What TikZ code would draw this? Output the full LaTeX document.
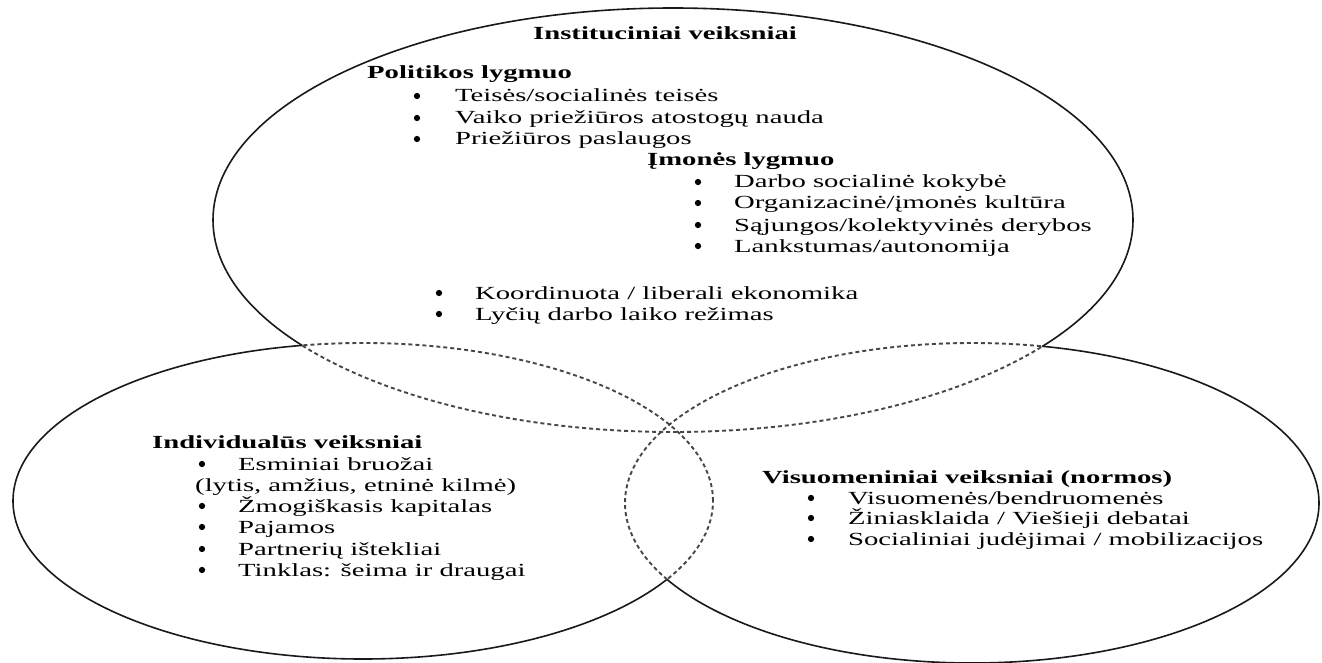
\documentclass[tikz,border=0pt]{standalone}
\usepackage{fontspec}
\setmainfont{Liberation Serif}[FakeStretch=1.55]
\begin{document}
\begin{tikzpicture}[x=1pt,y=-1pt,
  txt/.style={anchor=base west, inner sep=0pt, font=\fontsize{18.5}{21}\selectfont},
  hd/.style={anchor=base west, inner sep=0pt, font=\fontsize{18.5}{21}\selectfont\bfseries},
  bul/.style={circle, fill=black, inner sep=0pt, minimum size=6.3pt},
  solidline/.style={line width=1.6pt, draw=black!90},
  dashline/.style={line width=1.9pt, draw=black!72, dash pattern=on 4pt off 3pt}]
\useasboundingbox (0,0) rectangle (1322,663);
\fill[white] (0,0) rectangle (1322,663);

% ---- solid parts (outside the other two ellipses) ----
% top ellipse
\begin{scope}
  \clip (-20,-20) -- (1342,-20) -- (1342,683) -- (-20,683) -- cycle (363,501) ellipse [x radius=350pt, y radius=158pt];
  \clip (-20,-20) -- (1342,-20) -- (1342,683) -- (-20,683) -- cycle (972,503) ellipse [x radius=347pt, y radius=160pt];
  \draw[solidline] (673,220) ellipse [x radius=460pt, y radius=212pt];
\end{scope}
% left ellipse
\begin{scope}
  \clip (-20,-20) -- (1342,-20) -- (1342,683) -- (-20,683) -- cycle (673,220) ellipse [x radius=460pt, y radius=212pt];
  \clip (-20,-20) -- (1342,-20) -- (1342,683) -- (-20,683) -- cycle (972,503) ellipse [x radius=347pt, y radius=160pt];
  \draw[solidline] (363,501) ellipse [x radius=350pt, y radius=158pt];
\end{scope}
% right ellipse
\begin{scope}
  \clip (-20,-20) -- (1342,-20) -- (1342,683) -- (-20,683) -- cycle (673,220) ellipse [x radius=460pt, y radius=212pt];
  \clip (-20,-20) -- (1342,-20) -- (1342,683) -- (-20,683) -- cycle (363,501) ellipse [x radius=350pt, y radius=158pt];
  \draw[solidline] (972,503) ellipse [x radius=347pt, y radius=160pt];
\end{scope}

% ---- dashed parts (inside another ellipse) ----
\begin{scope}
  \clip (363,501) ellipse [x radius=350pt, y radius=158pt] (972,503) ellipse [x radius=347pt, y radius=160pt];
  \draw[dashline] (673,220) ellipse [x radius=460pt, y radius=212pt];
\end{scope}
\begin{scope}
  \clip (673,220) ellipse [x radius=460pt, y radius=212pt] (972,503) ellipse [x radius=347pt, y radius=160pt];
  \draw[dashline] (363,501) ellipse [x radius=350pt, y radius=158pt];
\end{scope}
\begin{scope}
  \clip (673,220) ellipse [x radius=460pt, y radius=212pt] (363,501) ellipse [x radius=350pt, y radius=158pt];
  \draw[dashline] (972,503) ellipse [x radius=347pt, y radius=160pt];
\end{scope}

% ---- institutional factors ----
\node[hd] (inst) at (533,40) {Instituciniai veiksniai};
\node[hd] (pol) at (367,79) {Politikos lygmuo};
\node[bul] (pb1) at (417,96) {};
\node[txt] (p1) at (455,102) {Teisės/socialinės teisės};
\node[bul] (pb2) at (417,118) {};
\node[txt] (p2) at (455,124) {Vaiko priežiūros atostogų nauda};
\node[bul] (pb3) at (417,139) {};
\node[txt] (p3) at (455,145) {Priežiūros paslaugos};
\node[hd] (imo) at (647,166) {Įmonės lygmuo};
\node[bul] (ib1) at (698,182) {};
\node[txt] (i1) at (734,188) {Darbo socialinė kokybė};
\node[bul] (ib2) at (698,203) {};
\node[txt] (i2) at (734,209) {Organizacinė/įmonės kultūra};
\node[bul] (ib3) at (698,225) {};
\node[txt] (i3) at (734,231) {Sąjungos/kolektyvinės derybos};
\node[bul] (ib4) at (698,246) {};
\node[txt] (i4) at (734,252) {Lankstumas/autonomija};
\node[bul] (kb1) at (439,293) {};
\node[txt] (k1) at (475,299) {Koordinuota / liberali ekonomika};
\node[bul] (kb2) at (439,314) {};
\node[txt] (k2) at (475,320) {Lyčių darbo laiko režimas};

% ---- individual factors ----
\node[hd] (ind) at (152,448) {Individualūs veiksniai};
\node[bul] (db1) at (202,464) {};
\node[txt] (d1) at (238,470) {Esminiai bruožai};
\node[txt] (d1b) at (195,491) {(lytis, amžius, etninė kilmė)};
\node[bul] (db2) at (202,506) {};
\node[txt] (d2) at (238,512) {Žmogiškasis kapitalas};
\node[bul] (db3) at (202,527) {};
\node[txt] (d3) at (238,533) {Pajamos};
\node[bul] (db4) at (202,549) {};
\node[txt] (d4) at (238,555) {Partnerių ištekliai};
\node[bul] (db5) at (202,570) {};
\node[txt] (d5) at (238,576) {Tinklas: šeima ir draugai};

% ---- social factors ----
\node[hd] (vis) at (762,483) {Visuomeniniai veiksniai (normos)};
\node[bul] (vb1) at (811,498) {};
\node[txt] (v1) at (848,504) {Visuomenės/bendruomenės};
\node[bul] (vb2) at (811,518) {};
\node[txt] (v2) at (848,524) {Žiniasklaida / Viešieji debatai};
\node[bul] (vb3) at (811,539) {};
\node[txt] (v3) at (848,545) {Socialiniai judėjimai / mobilizacijos};
\end{tikzpicture}
\end{document}
